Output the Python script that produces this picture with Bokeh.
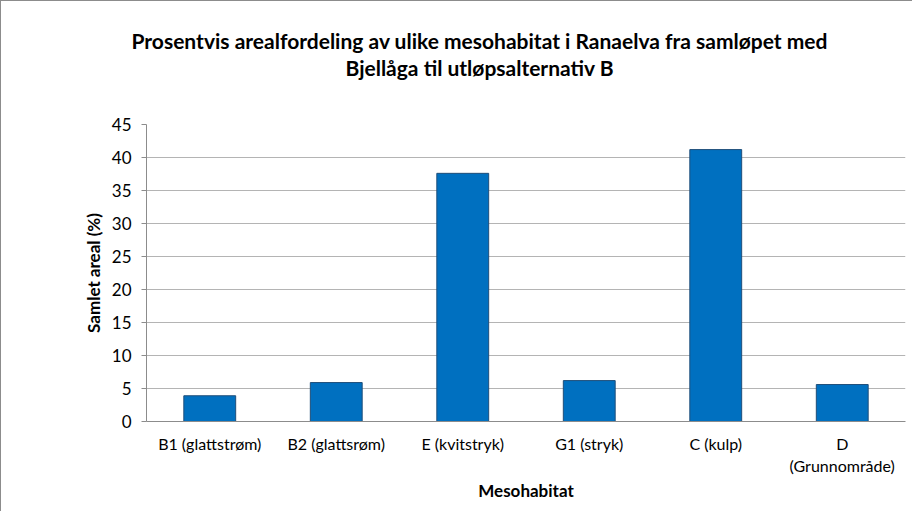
from bokeh.plotting import figure
from bokeh.models import Range1d, SingleIntervalTicker, Title
from bokeh.embed import file_html
from bokeh.resources import INLINE

categories = ["B1 (glattstrøm)", "B2 (glattsrøm)", "E (kvitstryk)", "G1 (stryk)", "C (kulp)", "D\n(Grunnområde)"]
values = [3.9, 5.9, 37.6, 6.2, 41.2, 5.6]
title_line1 = "Prosentvis arealfordeling  av ulike mesohabitat i Ranaelva fra samløpet med"
title_line2 = "Bjellåga til utløpsalternativ B"

FONT = "Lato"

p = figure(x_range=categories, y_range=Range1d(0, 45), width=912, height=511,
           output_backend="svg", toolbar_location=None,
           min_border_left=145, min_border_right=8, min_border_bottom=91, min_border_top=123)

p.vbar(x=categories, top=values, width=0.41, fill_color="#0070C0",
       line_color="#1F4E79", line_width=1)

t2 = Title(text=title_line2, align="left", offset=199, vertical_align="middle",
           text_font=FONT, text_font_size="21px",
           text_font_style="bold", text_color="#000000", standoff=88)
t1 = Title(text=title_line1, align="left", offset=-15, text_font=FONT, text_font_size="21px",
           text_font_style="bold", text_color="#000000", standoff=-87)
p.add_layout(t2, "above")
p.add_layout(t1, "above")

p.yaxis.ticker = SingleIntervalTicker(interval=5)
p.yaxis.axis_label = "Samlet areal (%)"
p.xaxis.axis_label = "Mesohabitat"
for ax in (p.xaxis[0], p.yaxis[0]):
    ax.axis_label_text_font = FONT
    ax.axis_label_text_font_style = "bold"
    ax.axis_label_text_font_size = "17px"
    ax.axis_label_text_color = "#000000"
    ax.major_label_text_font = FONT
    ax.major_label_text_color = "#000000"
    ax.axis_line_color = "#8C8C8C"
    ax.major_tick_line_color = "#8C8C8C"
    ax.minor_tick_line_color = None
p.xaxis.major_label_text_font_size = "16px"
p.yaxis.major_label_text_font_size = "17px"
p.yaxis.major_tick_out = 5
p.yaxis.major_tick_in = 0
p.xaxis.major_tick_line_color = None
p.xaxis.major_label_standoff = 6
p.yaxis.major_label_standoff = 10
p.xaxis.axis_label_standoff = 2
p.yaxis.axis_label_standoff = 5

p.xgrid.grid_line_color = None
p.ygrid.grid_line_color = "#B4B4B4"
p.outline_line_color = None
p.x_range.range_padding = 0.0
p.styles = {"border-left": "1px solid #8C8C8C", "border-top": "1px solid #8C8C8C"}

open("out.html", "w").write(file_html(p, INLINE))
